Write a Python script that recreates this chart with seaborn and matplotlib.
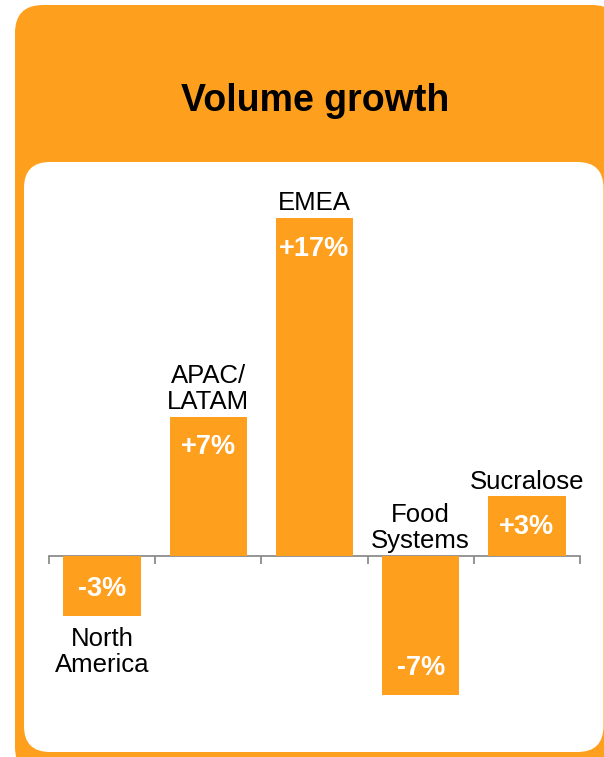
import matplotlib
matplotlib.use("Agg")
import matplotlib.pyplot as plt
from matplotlib.patches import FancyBboxPatch
import seaborn as sns
import pandas as pd

# ---- data ----
categories = ["North\nAmerica", "APAC/\nLATAM", "EMEA", "Food\nSystems", "Sucralose"]
values = [-3, 7, 17, -7, 3]
value_labels = ["-3%", "+7%", "+17%", "-7%", "+3%"]
title = "Volume growth"

ORANGE = "#FF9F1E"
W, H, DPI = 604, 757, 100

sns.set_theme(style="white")
plt.rcParams["font.family"] = ["Liberation Sans", "DejaVu Sans"]

fig = plt.figure(figsize=(W / DPI, H / DPI), dpi=DPI, facecolor="white")

def px_box(x0, y0, x1, y1, color, r, z):
    # pixel coords from top-left -> inches from bottom-left
    p = FancyBboxPatch((x0 / DPI, (H - y1) / DPI), (x1 - x0) / DPI, (y1 - y0) / DPI,
                       boxstyle=f"round,pad=0,rounding_size={r / DPI}",
                       transform=fig.dpi_scale_trans, facecolor=color,
                       edgecolor="none", zorder=z)
    fig.patches.append(p)

px_box(15, 5, 620, 775, ORANGE, 28, -20)
px_box(24, 162, 603.5, 752, "white", 26, -19)

fig.text(315 / W, 1 - 101 / H, title, ha="center", va="center",
         fontsize=27, fontweight="bold", color="black")

# axes layout (pixels)
ax_left, ax_right, ax_top, ax_bottom = 49, 580, 160, 750
zero_px, top17_px = 556, 218
per = (zero_px - top17_px) / 17.0
ax = fig.add_axes([ax_left / W, 1 - ax_bottom / H, (ax_right - ax_left) / W,
                   (ax_bottom - ax_top) / H])
ax.set_facecolor("none")
ax.set_zorder(1)

df = pd.DataFrame({"cat": categories, "val": values})
sns.barplot(data=df, x="cat", y="val", order=categories, color=ORANGE,
            saturation=1, width=0.73, linewidth=0, ax=ax, zorder=3)

ax.set_xlim(-0.5, len(categories) - 0.5)
ax.set_ylim(-(ax_bottom - zero_px) / per, (zero_px - ax_top) / per)
ax.set_xlabel("")
ax.set_ylabel("")
ax.set_yticks([])
ax.set_xticks([i - 0.5 for i in range(len(categories) + 1)])
ax.set_xticklabels([])
for s in ["top", "left", "right"]:
    ax.spines[s].set_visible(False)
ax.spines["bottom"].set_position(("data", 0))
ax.spines["bottom"].set_color("#8C8C8C")
ax.spines["bottom"].set_linewidth(1.3)
ax.spines["bottom"].set_zorder(2)
ax.tick_params(axis="x", direction="out", length=6, width=1.3, color="#8C8C8C",
               bottom=True)

label_below = {"North\nAmerica"}
for i, (c, v, lab) in enumerate(zip(categories, values, value_labels)):
    # value label inside the bar, near the outer end
    off = -22 if v >= 0 else 19.5
    ax.annotate(lab, (i, v), xytext=(0, off), textcoords="offset points",
                ha="center", va="center", fontsize=19.5, fontweight="bold",
                color="white", zorder=5)
    if c in label_below:
        ax.annotate(c, (i, min(v, 0)), xytext=(0, -8), textcoords="offset points",
                    ha="center", va="top", fontsize=18.5, color="black",
                    linespacing=1.12, zorder=5)
    else:
        ax.annotate(c, (i, max(v, 0)), xytext=(0, 2), textcoords="offset points",
                    ha="center", va="bottom", fontsize=18.5, color="black",
                    linespacing=1.12, zorder=5)

fig.savefig("out.png", dpi=DPI, facecolor="white")
